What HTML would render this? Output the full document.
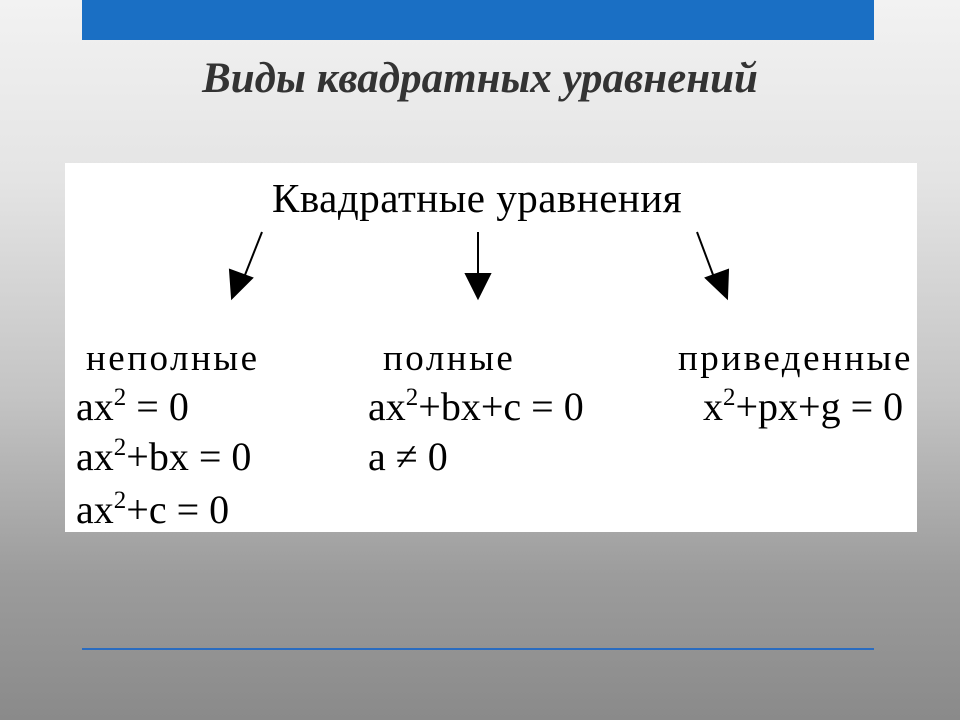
<!DOCTYPE html>
<html><head><meta charset="utf-8"><style>
html,body{margin:0;padding:0}
body{width:960px;height:720px;position:relative;overflow:hidden;
background:linear-gradient(to bottom,#f2f2f2 0%,#e4e4e4 25%,#c4c4c4 55%,#9c9c9c 80%,#8a8a8a 100%);
font-family:"Liberation Serif",serif}
.t{position:absolute;white-space:nowrap;color:#000;font-size:40px;line-height:1}
sup{font-size:25px;vertical-align:15px;line-height:0}
.l{letter-spacing:2.5px;font-size:37px}
</style></head><body>
<div style="position:absolute;left:82px;top:0;width:792px;height:40px;background:#1a6fc4"></div>
<div style="position:absolute;left:0;top:54px;width:960px;text-align:center;font:italic bold 43px 'Liberation Serif',serif;color:#333">Виды квадратных уравнений</div>
<div style="position:absolute;left:65px;top:163px;width:852px;height:369px;background:#fff"></div>
<div style="position:absolute;left:82px;top:648px;width:792px;height:2px;background:#2a6cc0"></div>
<div class="t" style="left:272px;top:178px;font-size:41px;letter-spacing:0.5px">Квадратные уравнения</div>
<svg style="position:absolute;left:0;top:0" width="960" height="720">
<g stroke="#000" stroke-width="2" fill="#000">
<line x1="262" y1="232" x2="243" y2="280"/>
<polygon points="230,270 252,278 232,298"/>
<line x1="478" y1="232" x2="478" y2="280"/>
<polygon points="466,274 490,274 478,298"/>
<line x1="697" y1="232" x2="715" y2="280"/>
<polygon points="706,278 728,270 727,298"/>
</g></svg>
<div class="t l" style="left:86px;top:340px">неполные</div>
<div class="t l" style="left:383px;top:340px">полные</div>
<div class="t l" style="left:678px;top:340px">приведенные</div>
<div class="t" style="left:76px;top:387px">ax<sup>2</sup> = 0</div>
<div class="t" style="left:76px;top:437px">ax<sup>2</sup>+bx = 0</div>
<div class="t" style="left:76px;top:490px">ax<sup>2</sup>+c = 0</div>
<div class="t" style="left:368px;top:387px">ax<sup>2</sup>+bx+c = 0</div>
<div class="t" style="left:368px;top:437px">a ≠ 0</div>
<div class="t" style="left:703px;top:387px">x<sup>2</sup>+px+g = 0</div>
</body></html>
